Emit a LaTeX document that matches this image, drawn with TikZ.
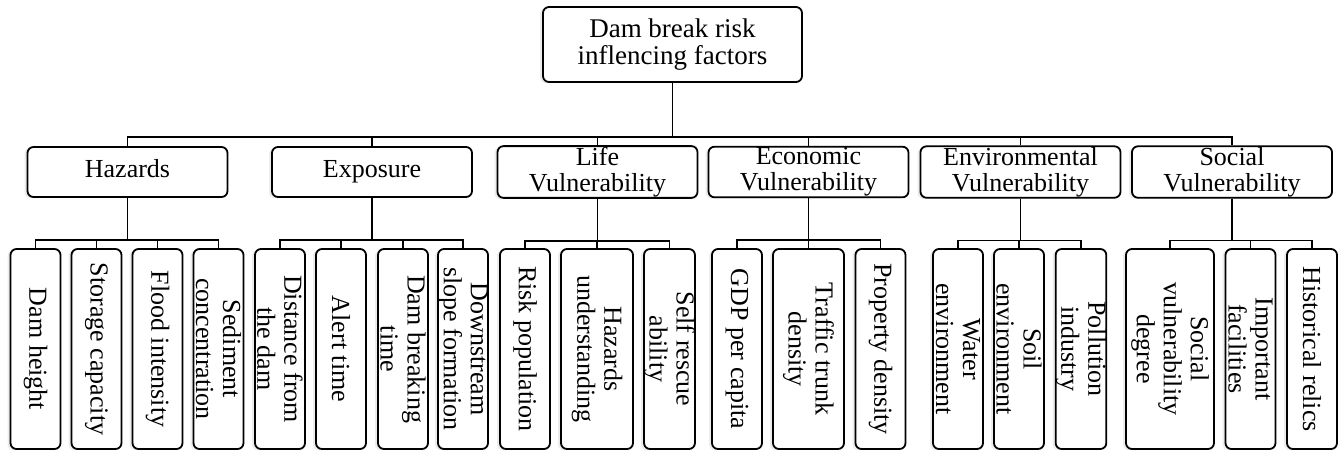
\documentclass[tikz,border=0pt]{standalone}
\usepackage{fontspec}
\setmainfont{Liberation Serif}
\usetikzlibrary{shadows}

\tikzset{
  box/.style={draw, rounded corners=3pt, line width=.9pt, fill=white, align=center,
    drop shadow={shadow xshift=-1.5pt, shadow yshift=-.6pt, opacity=.15}},
  rootbox/.style={box, minimum width=129.5pt, minimum height=37.5pt, inner sep=1pt,
    font=\fontsize{13.5}{13.8}\selectfont},
  catbox/.style={box, minimum width=100pt, minimum height=25pt, inner sep=.5pt,
    font=\fontsize{13}{12.9}\selectfont},
  leafbox/.style={box, rotate=-90, minimum width=100pt, minimum height=#1, inner sep=0pt,
    font=\fontsize{13}{13.5}\selectfont},
  leafbox/.default=25pt,
  link/.style={line width=.8pt},
}

\begin{document}
\begin{tikzpicture}[x=.5pt, y=-.5pt]
  \useasboundingbox (0,0) rectangle (1341,452);
  % top
  \node[rootbox] (root) at (672.5,44.5) {Dam break risk\\inflencing factors};
  % categories
  \node[catbox] (haz) at (127.5,172) {Hazards\strut};
  \node[catbox] (expo) at (372,172) {Exposure\strut};
  \node[catbox] (life) at (597.5,172) {Life\\Vulnerability};
  \node[catbox] (econ) at (808.5,172) {Economic\\Vulnerability};
  \node[catbox] (env) at (1020.5,172) {Environmental\\Vulnerability};
  \node[catbox] (soc) at (1232,172) {Social\\Vulnerability};
  % factors (rotated, so .west is the top end)
  \node[leafbox] (h1) at (35.5,349) {Dam height};
  \node[leafbox] (h2) at (96.5,349) {Storage capacity};
  \node[leafbox] (h3) at (157.5,349) {Flood intensity};
  \node[leafbox] (h4) at (218.5,349) {Sediment\\concentration};
  \node[leafbox] (e1) at (280,349) {Distance from\\the dam};
  \node[leafbox] (e2) at (341,349) {Alert time};
  \node[leafbox] (e3) at (403,349) {Dam breaking\\time};
  \node[leafbox] (e4) at (463,349) {Downstream\\slope formation};
  \node[leafbox] (l1) at (525,349) {Risk population};
  \node[leafbox=36pt] (l2) at (597,349) {Hazards\\understanding};
  \node[leafbox] (l3) at (669.5,349) {Self rescue\\ability};
  \node[leafbox] (c1) at (737,349) {GDP per capita};
  \node[leafbox=35.5pt] (c2) at (808.5,349) {Traffic trunk\\density};
  \node[leafbox] (c3) at (880.5,349) {Property density};
  \node[leafbox] (v1) at (958,349) {Water\\environment};
  \node[leafbox] (v2) at (1019,349) {Soil\\environment};
  \node[leafbox] (v3) at (1081,349) {Pollution\\industry};
  \node[leafbox=44pt] (s1) at (1170,349) {Social\\vulnerability\\degree};
  \node[leafbox] (s2) at (1250.5,349) {Important\\facilities};
  \node[leafbox] (s3) at (1312,349) {Historical relics};
  % tree lines
  \foreach \c in {haz,expo,life,econ,env,soc}
    \draw[link] (root.south) -- ++(0,54) -| (\c.north);
  \foreach \l in {h1,h2,h3,h4}
    \draw[link] (haz.south) -- ++(0,42) -| (\l.west);
  \foreach \l in {e1,e2,e3,e4}
    \draw[link] (expo.south) -- ++(0,42) -| (\l.west);
  \foreach \l in {l1,l2,l3}
    \draw[link] (life.south) -- ++(0,42) -| (\l.west);
  \foreach \l in {c1,c2,c3}
    \draw[link] (econ.south) -- ++(0,42) -| (\l.west);
  \foreach \l in {v1,v2,v3}
    \draw[link] (env.south) -- ++(0,42) -| (\l.west);
  \foreach \l in {s1,s2,s3}
    \draw[link] (soc.south) -- ++(0,42) -| (\l.west);
\end{tikzpicture}
\end{document}
